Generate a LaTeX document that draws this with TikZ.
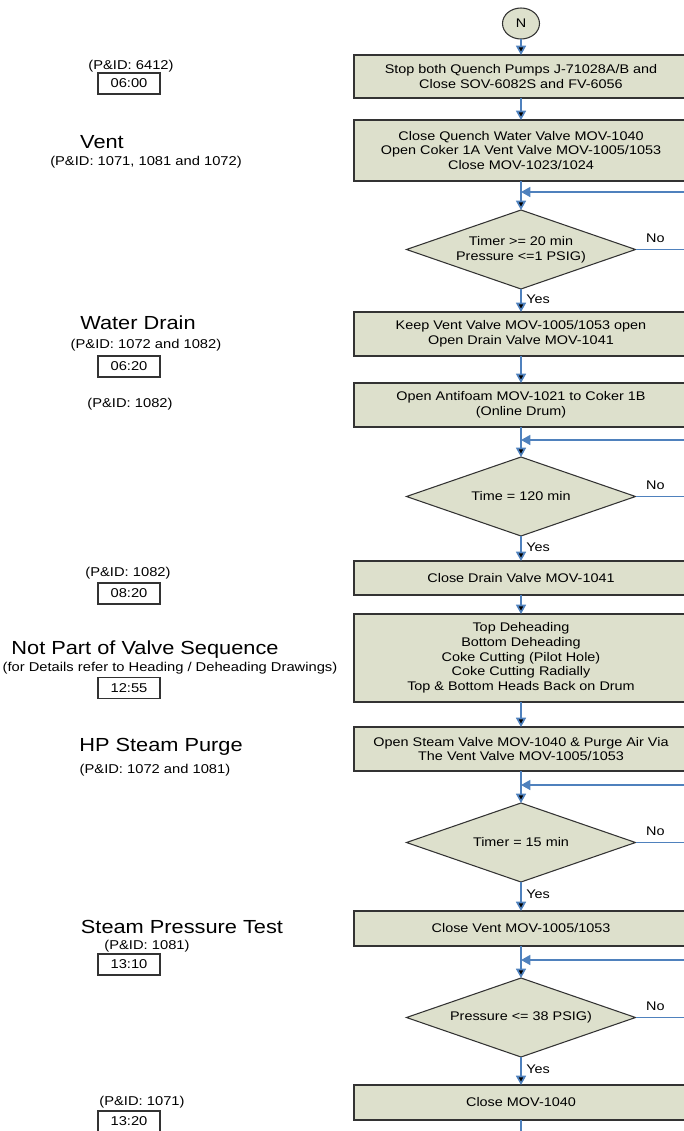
\documentclass[tikz,border=0pt]{standalone}
\usepackage{fontspec}
\setmainfont{Liberation Sans}[FakeStretch=1.15]
\usepackage{tikz}
\usetikzlibrary{positioning}
\usetikzlibrary{shapes,arrows.meta,shapes.geometric,calc}
\definecolor{stepfill}{RGB}{221,224,204}
\definecolor{flowblue}{RGB}{79,129,189}
\tikzset{
    %Define standard arrow tip
    >={Triangle[length=7pt,width=7.5pt]},
    % Define arrow style
    flow/.style={
           draw=flowblue,
           line width=1.2pt,}
}
\newcommand{\stepwidth}{250.5pt}
\newcommand{\decwidth}{171.75pt}
\newcommand{\decheight}{59.25pt}
\newcommand{\boxfont}{\fontsize{9.4}{11}\selectfont}

\begin{document}
\begin{tikzpicture}[x=0.75pt, y=-0.75pt, node distance=0pt, outer sep=0pt]
\tikzstyle{act}=[draw=black!80, line width=0.8pt, rectangle, fill=stepfill, minimum width=\stepwidth, align=center, inner sep=2pt, font=\boxfont]
\tikzstyle{dec}=[draw=black!80, line width=0.8pt, diamond, aspect=2.9, fill=stepfill, minimum width=\decwidth, minimum height=\decheight, align=center, inner sep=1pt, font=\boxfont]
\tikzstyle{startn}=[draw=black!80, line width=0.8pt, ellipse, fill=stepfill, minimum width=27.75pt, minimum height=23.25pt, inner sep=0pt, font=\boxfont]
\tikzstyle{yeslbl}=[anchor=west, pos=0.43, inner sep=4pt, font=\boxfont]
\tikzstyle{nolbl}=[above, pos=0.22, inner sep=5pt, font=\boxfont]
\tikzstyle{pid}=[inner sep=0pt, font=\fontsize{9.6}{11}\selectfont]
\tikzstyle{phase}=[inner sep=0pt, font=\fontsize{14.2}{16}\selectfont]
\tikzstyle{clock}=[draw=black!80, line width=0.8pt, minimum width=46.5pt, minimum height=15.75pt, inner sep=0pt, font=\fontsize{9.6}{11}\selectfont]

\useasboundingbox (0,0) rectangle (684,1131);
\clip (0,0) rectangle (684,1131);

% main sequence
\node[startn] (start) at (521,23.5) {N};
\node[act, minimum height=32.25pt] (stoppumps) [below = 12pt of start] {Stop both Quench Pumps J-71028A/B and\\Close SOV-6082S and FV-6056};
\node[act, minimum height=45.75pt] (closequench) [below = 16.5pt of stoppumps] {Close Quench Water Valve MOV-1040\\Open Coker 1A Vent Valve MOV-1005/1053\\Close MOV-1023/1024};
\coordinate[below = 8.25pt of closequench] (loop1);
\node[dec] (timer1) [below = 21.75pt of closequench] {Timer >= 20 min\\Pressure <=1 PSIG)};
\node[act, minimum height=33pt] (keepvent) [below = 17.25pt of timer1] {Keep Vent Valve MOV-1005/1053 open\\Open Drain Valve MOV-1041};
\node[act, minimum height=33pt] (antifoam) [below = 20.25pt of keepvent] {Open Antifoam MOV-1021 to Coker 1B\\(Online Drum)};
\coordinate[below = 9.75pt of antifoam] (loop2);
\node[dec] (timer2) [below = 22.5pt of antifoam] {Time = 120 min};
\node[act, minimum height=25.5pt] (closedrain) [below = 18.75pt of timer2] {Close Drain Valve MOV-1041};
\node[act, minimum height=66pt] (dehead) [below = 14.25pt of closedrain] {Top Deheading\\Bottom Deheading\\Coke Cutting (Pilot Hole)\\Coke Cutting Radially\\Top \& Bottom Heads Back on Drum};
\node[act, minimum height=33pt] (steampurge) [below = 18.75pt of dehead] {Open Steam Valve MOV-1040 \& Purge Air Via\\The Vent Valve MOV-1005/1053};
\coordinate[below = 10.5pt of steampurge] (loop3);
\node[dec] (timer3) [below = 24pt of steampurge] {Timer = 15 min};
\node[act, minimum height=26.25pt] (closevent) [below = 21.75pt of timer3] {Close Vent MOV-1005/1053};
\coordinate[below = 10.5pt of closevent] (loop4);
\node[dec] (press4) [below = 24pt of closevent] {Pressure <= 38 PSIG)};
\node[act, minimum height=26.25pt] (closemov) [below = 21pt of press4] {Close MOV-1040};
\coordinate[below = 15pt of closemov] (exit);

\path[flow,->] (start)  edge (stoppumps);
\path[flow,->] (stoppumps)  edge (closequench);
\path[flow,->] (closequench)  edge (timer1);
\path[flow,->] (timer1)  edge node[yeslbl] {Yes} (keepvent);
\path[flow,->] (keepvent)  edge (antifoam);
\path[flow,->] (antifoam)  edge (timer2);
\path[flow,->] (timer2)  edge node[yeslbl] {Yes} (closedrain);
\path[flow,->] (closedrain)  edge (dehead);
\path[flow,->] (dehead)  edge (steampurge);
\path[flow,->] (steampurge)  edge (timer3);
\path[flow,->] (timer3)  edge node[yeslbl] {Yes} (closevent);
\path[flow,->] (closevent)  edge (press4);
\path[flow,->] (press4)  edge node[yeslbl] {Yes} (closemov);
\path[flow] (closemov)  edge (exit);

% repeat loops
\draw[flow,->] (timer1.east) -- node[nolbl] {No} ++(90,0) |- (loop1);
\draw[flow,->] (timer2.east) -- node[nolbl] {No} ++(90,0) |- (loop2);
\draw[flow,->] (timer3.east) -- node[nolbl] {No} ++(90,0) |- (loop3);
\draw[flow,->] (press4.east) -- node[nolbl] {No} ++(90,0) |- (loop4);

% phase labels
\node[pid] (pid1) at (131,66) {(P\&ID: 6412)};
\node[clock] (time1) at (129,83.5) {06:00};
\node[phase] (vent) at (102,142) {Vent};
\node[pid] (pid2) at (146,162) {(P\&ID: 1071, 1081 and 1072)};
\node[phase] (drain) at (138,323) {Water Drain};
\node[pid] (pid3) at (146,345) {(P\&ID: 1072 and 1082)};
\node[clock] (time2) at (129,366.5) {06:20};
\node[pid] (pid4) at (130,404) {(P\&ID: 1082)};
\node[pid] (pid5) at (128,573) {(P\&ID: 1082)};
\node[clock] (time3) at (129,593.5) {08:20};
\node[phase] (notpart) at (145,650) {Not Part of Valve Sequence};
\node[pid] (pid6) at (170,668) {(for Details refer to Heading / Deheading Drawings)};
\node[clock] (time4) at (129,688) {12:55};
\node[phase] (purge) at (161,747) {HP Steam Purge};
\node[pid] (pid7) at (155,770) {(P\&ID: 1072 and 1081)};
\node[phase] (ptest) at (182,927) {Steam Pressure Test};
\node[pid] (pid8) at (147,946) {(P\&ID: 1081)};
\node[clock] (time5) at (129,964.5) {13:10};
\node[pid] (pid9) at (142,1102) {(P\&ID: 1071)};
\node[clock] (time6) at (129,1121.5) {13:20};

\end{tikzpicture}
\end{document}
